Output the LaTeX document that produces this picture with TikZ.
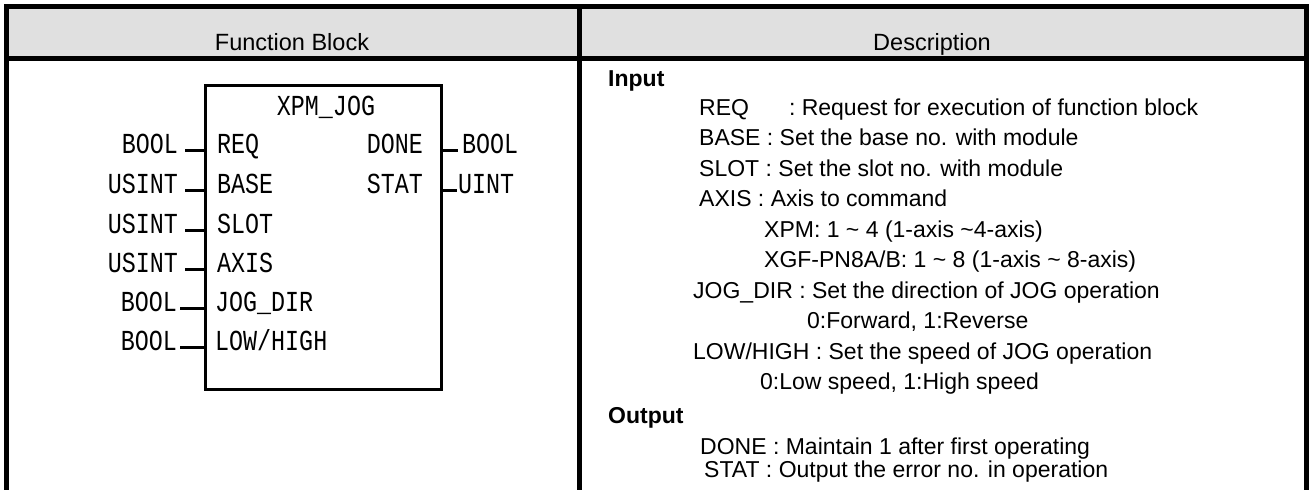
\documentclass[tikz,border=0pt]{standalone}
\usepackage{fontspec}
\setmainfont{Liberation Sans}
\newfontfamily\fbfont[FakeStretch=0.805]{Liberation Mono}
\definecolor{headgray}{HTML}{E0E0E0}
\begin{document}
\begin{tikzpicture}[x=1pt,y=-1pt,
  rulel/.style={line width=5pt},
  pin/.style={line width=3pt},
  head/.style={anchor=base, inner sep=0pt, font=\fontsize{23.5}{23.5}\selectfont},
  desc/.style={anchor=base west, inner sep=0pt, font=\fontsize{23}{23}\selectfont},
  sect/.style={anchor=base west, inner sep=0pt, font=\fontsize{23}{23}\selectfont\bfseries},
  fbw/.style={anchor=base west, inner sep=0pt, font=\fbfont\fontsize{29}{29}\selectfont},
  fbe/.style={anchor=base east, inner sep=0pt, font=\fbfont\fontsize{29}{29}\selectfont},
  fbc/.style={anchor=base, inner sep=0pt, font=\fbfont\fontsize{29}{29}\selectfont}]
\useasboundingbox (0,0) rectangle (1309,490);
% table
\fill[headgray] (9,9) rectangle (1305,56);
\draw[rulel] (4,6.5) -- (1309,6.5);
\draw[rulel] (4,58.5) -- (1309,58.5);
\draw[rulel] (6.5,4) -- (6.5,490);
\draw[rulel] (579.5,4) -- (579.5,490);
\draw[rulel] (1306.5,4) -- (1306.5,490);
\node[head] (hfb) at (292,50) {Function Block};
\node[head] (hdesc) at (932,50) {Description};
% function block
\node[draw, line width=3pt, minimum width=236.5pt, minimum height=304pt, inner sep=0pt, anchor=north west] (box) at (203.5,83.5) {};
\node[fbc] (title) at (326,115) {XPM\_JOG};
\node[fbw] (iREQ) at (217,153) {REQ};
\node[fbw] (iBASE) at (217,193) {BASE};
\node[fbw] (iSLOT) at (217,233) {SLOT};
\node[fbw] (iAXIS) at (217,272) {AXIS};
\node[fbw] (iJOG) at (215,311) {JOG\_DIR};
\node[fbw] (iLH) at (215,350) {LOW/HIGH};
\node[fbe] (tREQ) at (178,153) {BOOL};
\node[fbe] (tBASE) at (178,193) {USINT};
\node[fbe] (tSLOT) at (178,233) {USINT};
\node[fbe] (tAXIS) at (178,272) {USINT};
\node[fbe] (tJOG) at (177,311) {BOOL};
\node[fbe] (tLH) at (177,350) {BOOL};
\foreach \n in {REQ,BASE,SLOT,AXIS}
  \draw[pin] ([xshift=7pt]t\n.mid east) -- (t\n.mid east -| box.west);
\foreach \n in {JOG,LH}
  \draw[pin] ([xshift=3pt]t\n.mid east) -- (t\n.mid east -| box.west);
\node[fbe] (oDONE) at (423,153) {DONE};
\node[fbe] (oSTAT) at (423,193) {STAT};
\node[fbw] (tDONE) at (462,153) {BOOL};
\node[fbw] (tSTAT) at (458,193) {UINT};
\draw[pin] (tDONE.mid west -| box.east) -- ([xshift=-4pt]tDONE.mid west);
\draw[pin] (tSTAT.mid west -| box.east) -- ([xshift=-1pt]tSTAT.mid west);
% description
\node[sect] (inp) at (608,86) {Input};
\node[desc] (d1) at (699,115) {REQ\hspace{40pt}: Request for execution of function block};
\node[desc] (d2) at (699,145.5) {BASE : Set the base no. with module};
\node[desc] (d3) at (699,176) {SLOT : Set the slot no. with module};
\node[desc] (d4) at (699,206.5) {AXIS : Axis to command};
\node[desc] (d5) at (764,237) {XPM: 1 \textasciitilde\ 4 (1-axis \textasciitilde 4-axis)};
\node[desc] (d6) at (764,267.5) {XGF-PN8A/B: 1 \textasciitilde\ 8 (1-axis \textasciitilde\ 8-axis)};
\node[desc] (d7) at (693,298) {JOG\_DIR : Set the direction of JOG operation};
\node[desc] (d8) at (807,328.5) {0:Forward, 1:Reverse};
\node[desc] (d9) at (693,359) {LOW/HIGH : Set the speed of JOG operation};
\node[desc] (d10) at (760,389.5) {0:Low speed, 1:High speed};
\node[sect] (outp) at (608,423) {Output};
\node[desc] (d11) at (700,454) {DONE : Maintain 1 after first operating};
\node[desc] (d12) at (704,477) {STAT : Output the error no. in operation};
\end{tikzpicture}
\end{document}
